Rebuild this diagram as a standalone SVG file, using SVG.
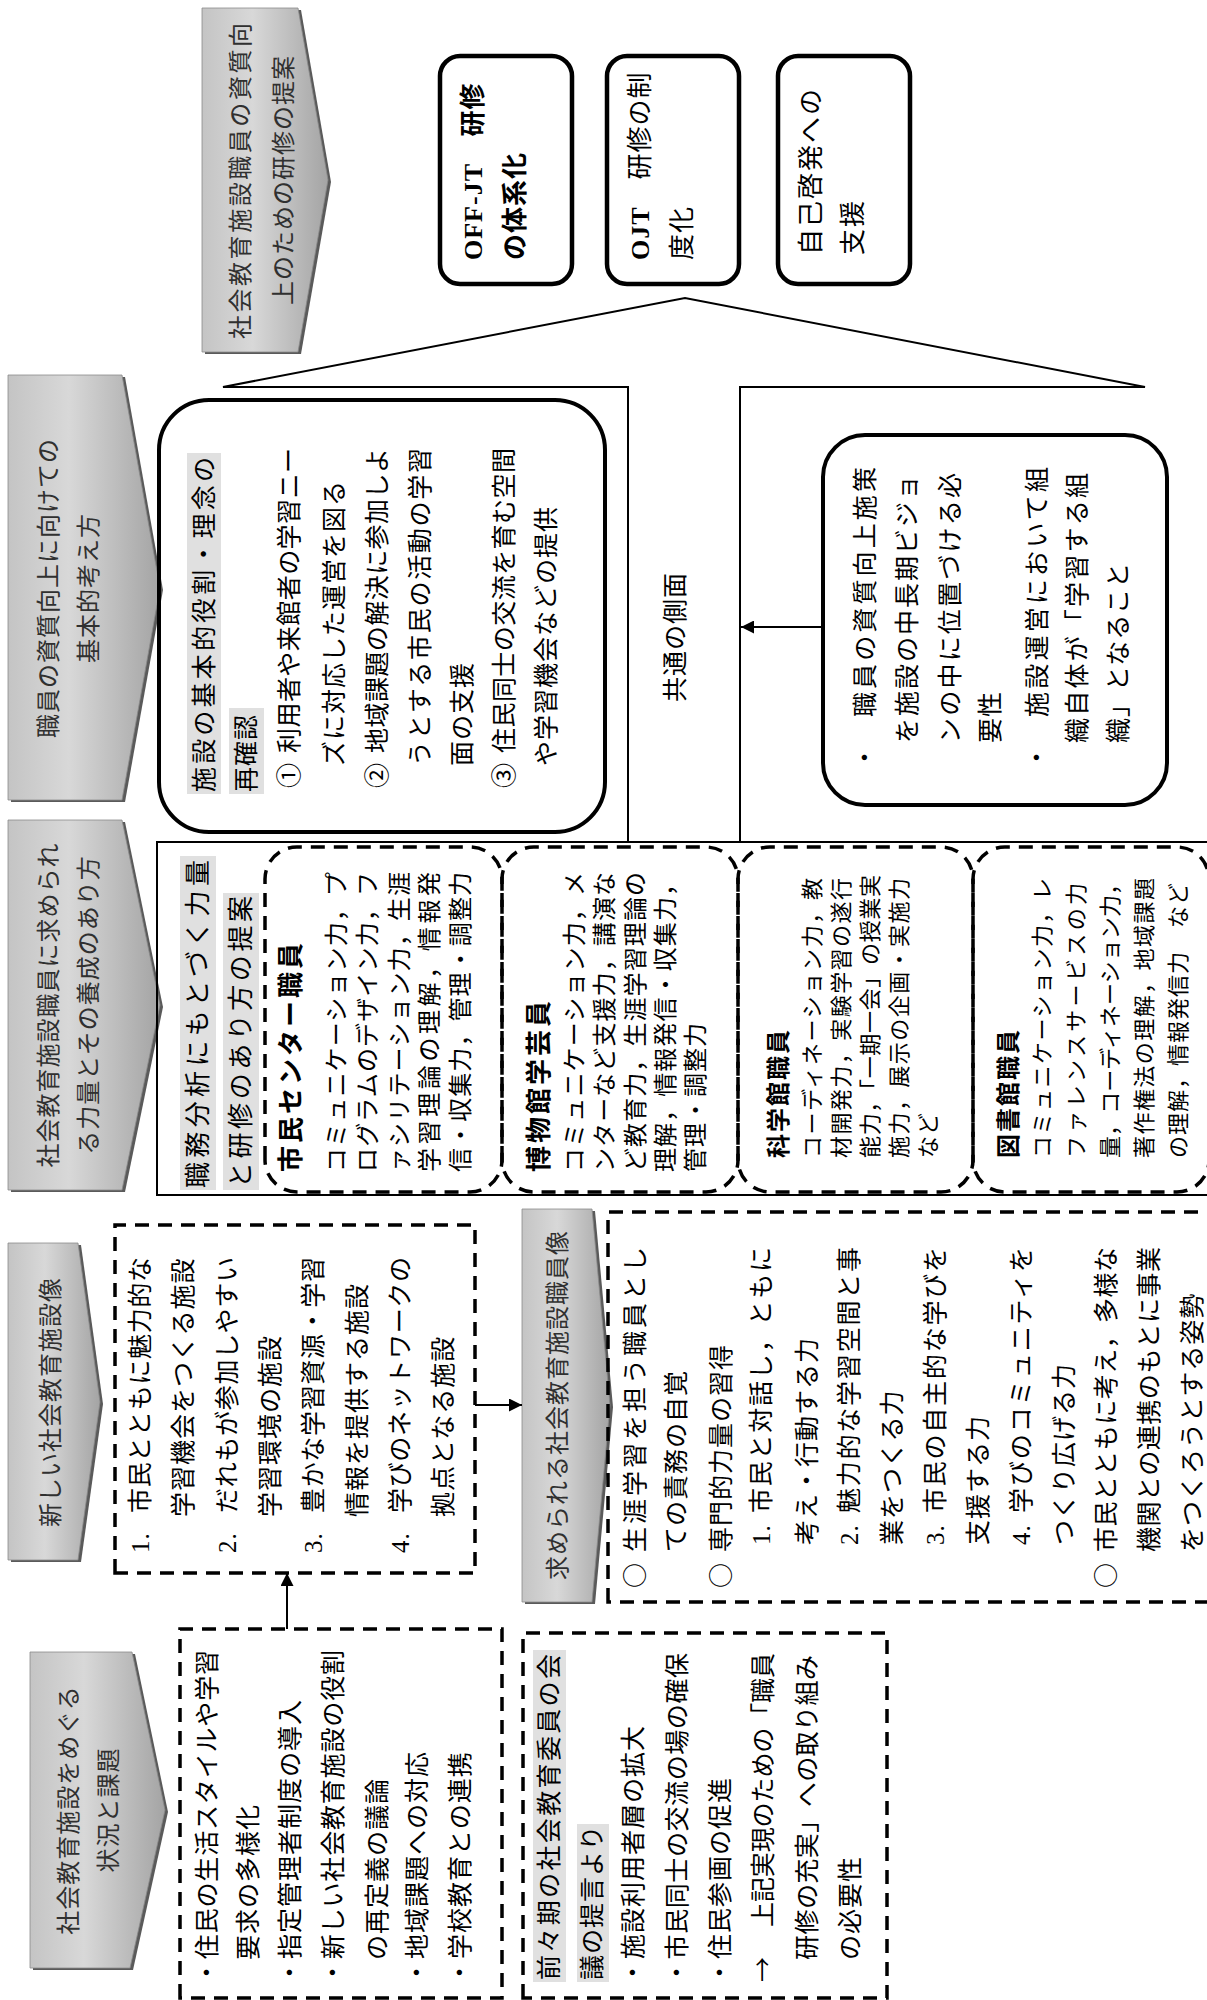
<svg xmlns="http://www.w3.org/2000/svg" width="1207" height="2000" viewBox="0 0 1207 2000">
<defs>
<style>
.t{font-family:"Liberation Serif","Noto Sans CJK JP",serif;font-size:25px;fill:#000;letter-spacing:1px}
text[textLength]{letter-spacing:0}
.s{font-size:22px}
.j{font-family:"Noto Sans CJK JP",sans-serif}
.b{font-family:"Liberation Serif","Noto Sans CJK JP",serif;font-weight:bold}
.bg{font-family:"Noto Sans CJK JP",sans-serif;font-weight:bold;font-size:26px;letter-spacing:3px}
.h{font-family:"Noto Sans CJK JP",sans-serif;font-size:24px;fill:#303030;letter-spacing:1px;text-anchor:middle}
.dash{fill:none;stroke:#000;stroke-width:3.5;stroke-dasharray:14 9}
.solid{fill:none;stroke:#000;stroke-width:4}
.ln{fill:none;stroke:#000;stroke-width:2}
.hl{fill:#e0e0e0}
.cf{fill:url(#cg);stroke:#8a8a8a;stroke-width:0.8}
.sh{fill:#5a5a5a}
</style>
<linearGradient id="cg" x1="0" y1="0" x2="0" y2="1">
<stop offset="0" stop-color="#c4c4c4"/>
<stop offset="0.4" stop-color="#d8d8d8"/>
<stop offset="1" stop-color="#a4a4a4"/>
</linearGradient>
<marker id="ah" viewBox="0 0 10 10" refX="10" refY="5" markerWidth="15" markerHeight="13" markerUnits="userSpaceOnUse" orient="auto"><path d="M0,0 L10,5 L0,10 z" fill="#000"/></marker>
</defs>
<rect width="1207" height="2000" fill="#fff"/>
<g transform="translate(0,2000) rotate(-90)">

<!-- header chevrons -->
<g id="head1">
<polygon class="sh" transform="translate(-2,3)" points="32,30 348,30 348,132 190,165 32,130"/>
<polygon class="cf" points="32,30 348,30 348,132 190,165 32,130"/>
<text class="h" x="190" y="77">社会教育施設をめぐる</text>
<text class="h" x="190" y="117">状況と課題</text>
</g>
<g id="head2">
<polygon class="sh" transform="translate(-2,3)" points="440,8 757,8 757,78 598,100 440,78"/>
<polygon class="cf" points="440,8 757,8 757,78 598,100 440,78"/>
<text class="h" x="598" y="59">新しい社会教育施設像</text>
</g>
<g id="head3">
<polygon class="sh" transform="translate(-2,3)" points="810,8 1180,8 1180,122 995,160 810,122"/>
<polygon class="cf" points="810,8 1180,8 1180,122 995,160 810,122"/>
<text class="h" x="995" y="57">社会教育施設職員に求められ</text>
<text class="h" x="995" y="97">る力量とその養成のあり方</text>
</g>
<g id="head4">
<polygon class="sh" transform="translate(-2,3)" points="1200,8 1625,8 1625,122 1412,160 1200,122"/>
<polygon class="cf" points="1200,8 1625,8 1625,122 1412,160 1200,122"/>
<text class="h" x="1412" y="57">職員の資質向上に向けての</text>
<text class="h" x="1412" y="97">基本的考え方</text>
</g>
<g id="head5">
<polygon class="sh" transform="translate(-2,3)" points="1648,202 1992,202 1992,298 1820,328 1648,298"/>
<polygon class="cf" points="1648,202 1992,202 1992,298 1820,328 1648,298"/>
<text class="h" x="1661" y="249" style="text-anchor:start" textLength="316" lengthAdjust="spacing">社会教育施設職員の資質向</text>
<text class="h" x="1820" y="292">上のための研修の提案</text>
</g>
<g id="head6">
<polygon class="sh" transform="translate(-2,3)" points="398,522 791,522 791,592 595,610 398,592"/>
<polygon class="cf" points="398,522 791,522 791,592 595,610 398,592"/>
<text class="h" x="595" y="566">求められる社会教育施設職員像</text>
</g>

<!-- column 1 -->
<g id="situation">
<rect class="dash" x="2" y="180" width="369" height="322"/>
<text class="t" x="15" y="216" textLength="335" lengthAdjust="spacing">・住民の生活スタイルや学習</text>
<text class="t" x="40" y="257">要求の多様化</text>
<text class="t" x="15" y="299">・指定管理者制度の導入</text>
<text class="t" x="15" y="342" textLength="335" lengthAdjust="spacing">・新しい社会教育施設の役割</text>
<text class="t" x="40" y="386">の再定義の議論</text>
<text class="t" x="15" y="426">・地域課題への対応</text>
<text class="t" x="15" y="469">・学校教育との連携</text>
</g>
<g id="proposal-prev">
<rect class="dash" x="2" y="523" width="365" height="364"/>
<rect class="hl" x="18" y="533" width="332" height="33"/>
<rect class="hl" x="18" y="577" width="158" height="32"/>
<text class="t" x="20" y="558" textLength="326" lengthAdjust="spacing">前々期の社会教育委員の会</text>
<text class="t" x="20" y="601">議の提言より</text>
<text class="t" x="15" y="642">・施設利用者層の拡大</text>
<text class="t" x="15" y="686" textLength="332" lengthAdjust="spacing">・市民同士の交流の場の確保</text>
<text class="t" x="15" y="729">・住民参画の促進</text>
<text class="t j" x="18" y="772">→</text>
<text class="t" x="73" y="772" textLength="274" lengthAdjust="spacing">上記実現のための「職員</text>
<text class="t" x="40" y="816" textLength="305" lengthAdjust="spacing">研修の充実」への取り組み</text>
<text class="t" x="40" y="859">の必要性</text>
</g>

<!-- column 2 -->
<g id="new-facility">
<rect class="dash" x="427" y="115" width="348" height="360"/>
<text class="t" x="447" y="149">1.</text>
<text class="t" x="487" y="149" textLength="256" lengthAdjust="spacing">市民とともに魅力的な</text>
<text class="t" x="483" y="192">学習機会をつくる施設</text>
<text class="t" x="447" y="236">2.</text>
<text class="t" x="487" y="236" textLength="256" lengthAdjust="spacing">だれもが参加しやすい</text>
<text class="t" x="483" y="279">学習環境の施設</text>
<text class="t" x="447" y="322">3.</text>
<text class="t" x="487" y="322" textLength="256" lengthAdjust="spacing">豊かな学習資源・学習</text>
<text class="t" x="483" y="366">情報を提供する施設</text>
<text class="t" x="447" y="409">4.</text>
<text class="t" x="487" y="409" textLength="256" lengthAdjust="spacing">学びのネットワークの</text>
<text class="t" x="483" y="452">拠点となる施設</text>
</g>
<g id="staff-image">
<rect class="dash" x="398" y="608" width="390" height="612"/>
<text class="t j" x="412" y="644">○</text>
<text class="t" x="448" y="644" textLength="305" lengthAdjust="spacing">生涯学習を担う職員とし</text>
<text class="t" x="448" y="685">ての責務の自覚</text>
<text class="t j" x="412" y="730">○</text>
<text class="t" x="448" y="730">専門的力量の習得</text>
<text class="t" x="455" y="770">1.</text>
<text class="t" x="487" y="770" textLength="266" lengthAdjust="spacing">市民と対話し，ともに</text>
<text class="t" x="455" y="816">考え・行動する力</text>
<text class="t" x="455" y="858">2.</text>
<text class="t" x="487" y="858" textLength="266" lengthAdjust="spacing">魅力的な学習空間と事</text>
<text class="t" x="455" y="901">業をつくる力</text>
<text class="t" x="455" y="944">3.</text>
<text class="t" x="487" y="944" textLength="266" lengthAdjust="spacing">市民の自主的な学びを</text>
<text class="t" x="455" y="987">支援する力</text>
<text class="t" x="455" y="1030">4.</text>
<text class="t" x="487" y="1030" textLength="266" lengthAdjust="spacing">学びのコミュニティを</text>
<text class="t" x="455" y="1073">つくり広げる力</text>
<text class="t j" x="412" y="1115">○</text>
<text class="t" x="448" y="1115" textLength="305" lengthAdjust="spacing">市民とともに考え，多様な</text>
<text class="t" x="448" y="1158" textLength="305" lengthAdjust="spacing">機関との連携のもとに事業</text>
<text class="t" x="448" y="1201">をつくろうとする姿勢</text>
</g>

<!-- column 3 -->
<g id="competency">
<rect class="ln" x="805" y="157" width="353" height="1062"/>
<rect class="hl" x="810" y="180" width="334" height="36"/>
<rect class="hl" x="810" y="223" width="297" height="36"/>
<text class="t" x="812" y="207" style="font-size:26px" textLength="328" lengthAdjust="spacing">職務分析にもとづく力量</text>
<text class="t" x="812" y="250" style="font-size:26px" textLength="292" lengthAdjust="spacing">と研修のあり方の提案</text>
</g>
<g id="citizen-center">
<rect class="dash" x="808" y="265" width="345" height="237" rx="32"/>
<text class="bg" x="828" y="300">市民センター職員</text>
<text class="t" x="828" y="345" style="font-size:24px" textLength="300" lengthAdjust="spacing">コミュニケーション力，プ</text>
<text class="t" x="828" y="376" style="font-size:24px" textLength="300" lengthAdjust="spacing">ログラムのデザイン力，フ</text>
<text class="t" x="828" y="408" style="font-size:24px" textLength="300" lengthAdjust="spacing">ァシリテーション力，生涯</text>
<text class="t" x="828" y="438" style="font-size:24px" textLength="300" lengthAdjust="spacing">学習理論の理解，情報発</text>
<text class="t" x="828" y="469" style="font-size:24px" textLength="300" lengthAdjust="spacing">信・収集力，管理・調整力</text>
</g>
<g id="museum">
<rect class="dash" x="808" y="502" width="345" height="236" rx="32"/>
<text class="bg" x="828" y="548">博物館学芸員</text>
<text class="t" x="828" y="583" style="font-size:24px" textLength="300" lengthAdjust="spacing">コミュニケーション力，メ</text>
<text class="t" x="828" y="613" style="font-size:24px" textLength="300" lengthAdjust="spacing">ンターなど支援力，講演な</text>
<text class="t" x="828" y="644" style="font-size:24px" textLength="300" lengthAdjust="spacing">ど教育力，生涯学習理論の</text>
<text class="t" x="828" y="674" style="font-size:24px" textLength="300" lengthAdjust="spacing">理解，情報発信・収集力，</text>
<text class="t" x="828" y="704" style="font-size:24px">管理・調整力</text>
</g>
<g id="science">
<rect class="dash" x="808" y="738" width="345" height="235" rx="32"/>
<text class="bg" x="842" y="787" style="font-size:24px;letter-spacing:2px">科学館職員</text>
<text class="t s" x="842" y="820" textLength="280" lengthAdjust="spacing">コーディネーション力，教</text>
<text class="t s" x="842" y="849" textLength="280" lengthAdjust="spacing">材開発力，実験学習の遂行</text>
<text class="t s" x="842" y="878" textLength="283" lengthAdjust="spacing">能力，「一期一会」の授業実</text>
<text class="t s" x="842" y="907" textLength="280" lengthAdjust="spacing">施力，展示の企画・実施力</text>
<text class="t s" x="842" y="936">など</text>
</g>
<g id="library">
<rect class="dash" x="808" y="973" width="345" height="236" rx="32"/>
<text class="bg" x="842" y="1017" style="font-size:24px;letter-spacing:2px">図書館職員</text>
<text class="t s" x="842" y="1050" textLength="280" lengthAdjust="spacing">コミュニケーション力，レ</text>
<text class="t s" x="842" y="1084" textLength="275" lengthAdjust="spacing">ファレンスサービスの力</text>
<text class="t s" x="842" y="1118" textLength="285" lengthAdjust="spacing">量，コーディネーション力，</text>
<text class="t s" x="842" y="1152" textLength="280" lengthAdjust="spacing">著作権法の理解，地域課題</text>
<text class="t s" x="842" y="1186">の理解，情報発信力　など</text>
</g>

<!-- column 4 -->
<g id="basic-role">
<rect class="solid" x="1168" y="159" width="432" height="446" rx="50"/>
<rect class="hl" x="1206" y="187" width="341" height="34"/>
<rect class="hl" x="1206" y="229" width="86" height="35"/>
<text class="t" x="1208" y="213" textLength="335" lengthAdjust="spacing">施設の基本的役割・理念の</text>
<text class="t" x="1208" y="255">再確認</text>
<text class="t j" x="1212" y="298">①</text>
<text class="t" x="1247" y="298" textLength="305" lengthAdjust="spacing">利用者や来館者の学習ニー</text>
<text class="t" x="1234" y="343">ズに対応した運営を図る</text>
<text class="t j" x="1212" y="386">②</text>
<text class="t" x="1247" y="386" textLength="305" lengthAdjust="spacing">地域課題の解決に参加しよ</text>
<text class="t" x="1234" y="429" textLength="318" lengthAdjust="spacing">うとする市民の活動の学習</text>
<text class="t" x="1234" y="471">面の支援</text>
<text class="t j" x="1212" y="513">③</text>
<text class="t" x="1247" y="513" textLength="305" lengthAdjust="spacing">住民同士の交流を育む空間</text>
<text class="t" x="1234" y="555">や学習機会などの提供</text>
</g>
<g id="common-label">
<text class="t" x="1363" y="684" style="text-anchor:middle">共通の側面</text>
</g>
<g id="org-learning">
<rect class="solid" x="1195" y="823" width="370" height="344" rx="42"/>
<text class="t" x="1230" y="874">・</text>
<text class="t" x="1283" y="874" textLength="250" lengthAdjust="spacing">職員の資質向上施策</text>
<text class="t" x="1257" y="916" textLength="268" lengthAdjust="spacing">を施設の中長期ビジョ</text>
<text class="t" x="1257" y="959" textLength="270" lengthAdjust="spacing">ンの中に位置づける必</text>
<text class="t" x="1257" y="999">要性</text>
<text class="t" x="1230" y="1046">・</text>
<text class="t" x="1283" y="1046" textLength="250" lengthAdjust="spacing">施設運営において組</text>
<text class="t" x="1257" y="1086" textLength="270" lengthAdjust="spacing">織自体が「学習する組</text>
<text class="t" x="1257" y="1127">織」となること</text>
</g>

<!-- column 5 -->
<g id="offjt">
<rect class="solid" x="1716" y="440" width="228" height="132" rx="20" style="stroke-width:4.5"/>
<text class="t b" x="1740" y="482" style="font-size:26px">OFF-JT　研修</text>
<text class="t b" x="1740" y="524" style="font-size:26px">の体系化</text>
</g>
<g id="ojt">
<rect class="solid" x="1716" y="607" width="228" height="132" rx="20" style="stroke-width:4.5"/>
<text class="t" x="1740" y="649" style="font-size:26px"><tspan class="b">OJT</tspan>　研修の制</text>
<text class="t" x="1740" y="691" style="font-size:26px">度化</text>
</g>
<g id="self-dev">
<rect class="solid" x="1716" y="778" width="228" height="132" rx="20" style="stroke-width:4.5"/>
<text class="t" x="1745" y="820" style="font-size:26px;letter-spacing:2px">自己啓発への</text>
<text class="t" x="1745" y="862" style="font-size:26px;letter-spacing:2px">支援</text>
</g>

<!-- connectors and frame lines -->
<g id="connectors">
<polyline class="ln" points="1158,628 1613,628 1613,223 1702,685 1613,1145 1613,740 1158,740"/>
<line class="ln" x1="371" y1="287" x2="427" y2="287" marker-end="url(#ah)"/>
<line class="ln" x1="595" y1="475" x2="595" y2="522" marker-end="url(#ah)"/>
<line class="ln" x1="1373" y1="823" x2="1373" y2="741" marker-end="url(#ah)"/>
</g>
</g>
</svg>
